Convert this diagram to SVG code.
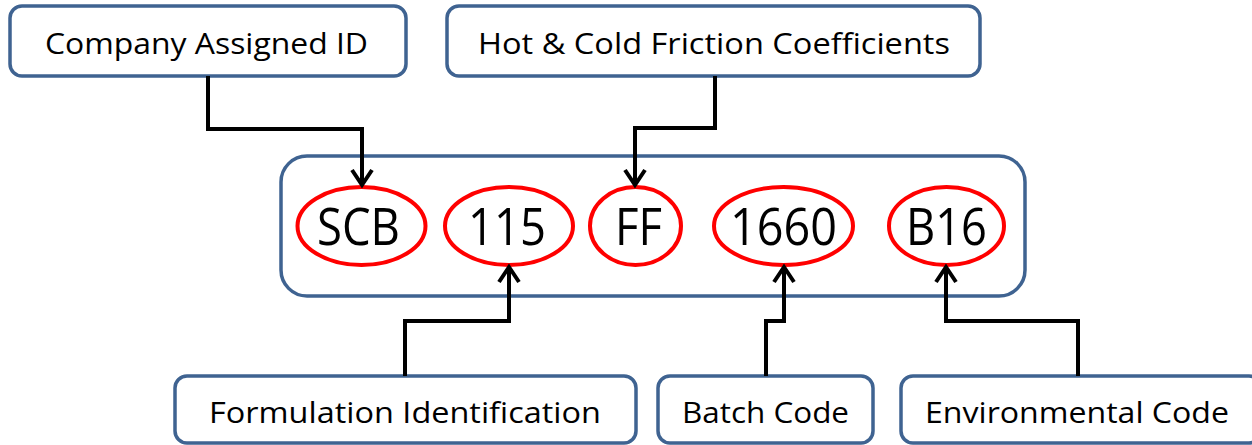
<svg xmlns="http://www.w3.org/2000/svg" width="1252" height="445" viewBox="0 0 1252 445">
<style>
.box{fill:#fff;stroke:#3f6391;stroke-width:3.5}
.lbl{font-family:"Open Sans","Liberation Sans",sans-serif;font-size:29.5px;fill:#000;text-anchor:middle}
.code{font-family:"Open Sans","Liberation Sans",sans-serif;font-size:52px;fill:#000;text-anchor:middle}
.ell{fill:none;stroke:#f00;stroke-width:4}
.con{fill:none;stroke:#000;stroke-width:4;marker-end:url(#arr)}
</style>
<defs>
<marker id="arr" markerUnits="userSpaceOnUse" viewBox="-20 -13 24 26" refX="0" refY="0" markerWidth="24" markerHeight="26" orient="auto" overflow="visible">
<path d="M-15,-10 L0,0 L-15,10" fill="none" stroke="#000" stroke-width="4"/>
</marker>
</defs>
<rect width="1252" height="445" fill="#fff"/>
<g id="code-box">
<rect class="box" x="281" y="156" width="744" height="140" rx="26"/>
</g>
<g id="scb"><ellipse class="ell" cx="361.5" cy="226" rx="64" ry="39"/><text class="code" x="358.5" y="245" textLength="83" lengthAdjust="spacingAndGlyphs">SCB</text></g>
<g id="n115"><ellipse class="ell" cx="509" cy="226" rx="64" ry="39"/><text class="code" x="507" y="245" textLength="78" lengthAdjust="spacingAndGlyphs">115</text></g>
<g id="ff"><ellipse class="ell" cx="635.5" cy="226" rx="45.5" ry="39"/><text class="code" x="638.5" y="245" textLength="47" lengthAdjust="spacingAndGlyphs">FF</text></g>
<g id="n1660"><ellipse class="ell" cx="783.5" cy="226" rx="69.5" ry="39"/><text class="code" x="783.5" y="245" textLength="107" lengthAdjust="spacingAndGlyphs">1660</text></g>
<g id="b16"><ellipse class="ell" cx="946.5" cy="226" rx="57.5" ry="39"/><text class="code" x="946.5" y="245" textLength="81" lengthAdjust="spacingAndGlyphs">B16</text></g>
<g id="company"><rect class="box" x="10" y="6" width="396" height="70" rx="12"/><text class="lbl" x="206.5" y="54" textLength="323" lengthAdjust="spacingAndGlyphs">Company Assigned ID</text></g>
<g id="friction"><rect class="box" x="447" y="6" width="533" height="70" rx="12"/><text class="lbl" x="714" y="54" textLength="472" lengthAdjust="spacingAndGlyphs">Hot &amp; Cold Friction Coefficients</text></g>
<g id="formulation"><rect class="box" x="175" y="376" width="461" height="67" rx="12"/><text class="lbl" x="405" y="423" textLength="392" lengthAdjust="spacingAndGlyphs">Formulation Identification</text></g>
<g id="batch"><rect class="box" x="658" y="376" width="215" height="67" rx="12"/><text class="lbl" x="765.5" y="423" textLength="167" lengthAdjust="spacingAndGlyphs">Batch Code</text></g>
<g id="environmental"><rect class="box" x="901" y="376" width="360" height="67" rx="12"/><text class="lbl" x="1077" y="423" textLength="304" lengthAdjust="spacingAndGlyphs">Environmental Code</text></g>
<g id="connectors">
<path class="con" d="M208,76 V129 H362 V185"/>
<path class="con" d="M715,76 V128 H635 V185"/>
<path class="con" d="M405,376 V321 H509 V267"/>
<path class="con" d="M766,376 V321 H784 V267"/>
<path class="con" d="M1078,376 V321 H946 V267"/>
</g>
</svg>
